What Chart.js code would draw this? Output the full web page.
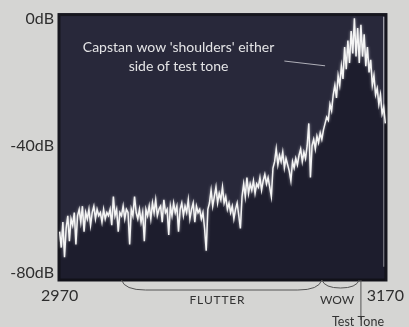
<!DOCTYPE html>
<html>
<head>
<meta charset="utf-8">
<script src="https://cdn.jsdelivr.net/npm/chart.js@4/dist/chart.umd.min.js"></script>
<style>
  html, body { margin: 0; padding: 0; background: #d5d5d3; }
  #wrap { width: 409px; height: 327px; position: relative; }
</style>
</head>
<body>
<div id="wrap"><canvas id="c" width="409" height="327"></canvas></div>
<script>
// Frequency axis (Hz), one reading per Hz from 2970 to 3170
const freqHz = [
  2970,2971,2972,2973,2974,2975,2976,2977,2978,2979,
  2980,2981,2982,2983,2984,2985,2986,2987,2988,2989,
  2990,2991,2992,2993,2994,2995,2996,2997,2998,2999,
  3000,3001,3002,3003,3004,3005,3006,3007,3008,3009,
  3010,3011,3012,3013,3014,3015,3016,3017,3018,3019,
  3020,3021,3022,3023,3024,3025,3026,3027,3028,3029,
  3030,3031,3032,3033,3034,3035,3036,3037,3038,3039,
  3040,3041,3042,3043,3044,3045,3046,3047,3048,3049,
  3050,3051,3052,3053,3054,3055,3056,3057,3058,3059,
  3060,3061,3062,3063,3064,3065,3066,3067,3068,3069,
  3070,3071,3072,3073,3074,3075,3076,3077,3078,3079,
  3080,3081,3082,3083,3084,3085,3086,3087,3088,3089,
  3090,3091,3092,3093,3094,3095,3096,3097,3098,3099,
  3100,3101,3102,3103,3104,3105,3106,3107,3108,3109,
  3110,3111,3112,3113,3114,3115,3116,3117,3118,3119,
  3120,3121,3122,3123,3124,3125,3126,3127,3128,3129,
  3130,3131,3132,3133,3134,3135,3136,3137,3138,3139,
  3140,3141,3142,3143,3144,3145,3146,3147,3148,3149,
  3150,3151,3152,3153,3154,3155,3156,3157,3158,3159,
  3160,3161,3162,3163,3164,3165,3166,3167,3168,3169,
  3170
];

// Spectrum level (dB) at each frequency
const levelDb = [
  -67,-72,-64,-75,-66,-62,-70,-63,-65,-61,
  -71,-62,-60,-64,-59,-67,-61,-63,-60,-65,
  -61,-59,-63,-60,-62,-61,-64,-60,-63,-61,
  -62,-60,-65,-56,-62,-60,-67,-61,-62,-59,
  -63,-60,-61,-71,-60,-62,-56,-61,-63,-60,
  -64,-61,-70,-60,-62,-59,-63,-58,-61,-57,
  -62,-60,-59,-64,-57,-61,-60,-68,-59,-62,
  -58,-61,-59,-67,-60,-58,-62,-59,-61,-57,
  -63,-60,-58,-64,-59,-61,-60,-63,-61,-66,
  -73,-60,-58,-54,-59,-56,-53,-58,-55,-57,
  -53,-58,-56,-60,-58,-61,-59,-63,-60,-58,
  -62,-66,-56,-52,-56,-50,-55,-52,-54,-51,
  -55,-52,-53,-50,-54,-51,-49,-52,-50,-53,
  -56,-47,-45,-41,-46,-43,-45,-42,-47,-44,
  -46,-48,-51,-45,-47,-44,-46,-43,-41,-45,
  -42,-44,-40,-33,-50,-40,-38,-41,-37,-39,
  -36,-38,-35,-33,-31,-32,-27,-29,-24,-21,
  -25,-18,-21,-15,-19,-9,-16,-7,-14,-4,
  -11,0,-12,-3,-14,-2,-12,-5,-15,-9,
  -17,-13,-21,-18,-24,-22,-27,-24,-30,-28,
  -33
];

const freqTicks = [2970, 3170];
const dbTicks = [0, -40, -80];

// Bracketed regions under the frequency axis
const bracketLabels = ['FLUTTER', 'WOW'];
const bracketFrom = [3008, 3131];
const bracketTo = [3131, 3154];
const testToneHz = 3155;
const edgeLineHz = 3169;

const noteLines = ["Capstan wow 'shoulders' either", 'side of test tone'];

const FONT = 'Lato, "Open Sans", sans-serif';

const frame = {
  id: 'frame',
  beforeDraw(chart) {
    const { ctx, chartArea: a } = chart;
    ctx.save();
    ctx.fillStyle = '#28283a';
    ctx.fillRect(a.left, a.top, a.right - a.left, a.bottom - a.top);
    ctx.strokeStyle = '#16161e';
    ctx.lineWidth = 3;
    ctx.strokeRect(a.left + 1, a.top + 1, a.right - a.left - 2, a.bottom - a.top - 2);
    ctx.restore();
  },
  beforeDatasetDraw(chart, args) {
    if (args.index === 0) {
      chart.ctx.save();
      chart.ctx.shadowColor = 'rgba(255,255,255,0.55)';
      chart.ctx.shadowBlur = 3;
    }
  },
  afterDatasetDraw(chart, args) {
    if (args.index === 0) chart.ctx.restore();
  },
  afterDraw(chart) {
    const { ctx, chartArea: a } = chart;
    const xs = chart.scales.x, ys = chart.scales.y;
    ctx.save();
    // note text inside the plot
    ctx.fillStyle = '#e4e4e6';
    ctx.font = '14px ' + FONT;
    ctx.textAlign = 'center';
    ctx.textBaseline = 'middle';
    ctx.fillText(noteLines[0], xs.getPixelForValue(3043), ys.getPixelForValue(-9));
    ctx.fillText(noteLines[1], xs.getPixelForValue(3043), ys.getPixelForValue(-15));
    ctx.strokeStyle = 'rgba(220,220,225,0.75)';
    ctx.lineWidth = 1;
    ctx.beginPath();
    ctx.moveTo(xs.getPixelForValue(3108), ys.getPixelForValue(-13.4));
    ctx.lineTo(xs.getPixelForValue(3133), ys.getPixelForValue(-14.9));
    ctx.stroke();

    // braces below the axis
    const top = a.bottom - 1;
    ctx.strokeStyle = '#555';
    ctx.lineWidth = 1;
    for (let i = 0; i < bracketLabels.length; i++) {
      const x0 = xs.getPixelForValue(bracketFrom[i]);
      const x1 = xs.getPixelForValue(bracketTo[i]);
      const r = Math.min(24, (x1 - x0) / 2);
      const depth = i === 0 ? 10 : 8;
      ctx.beginPath();
      ctx.moveTo(x0, top);
      ctx.quadraticCurveTo(x0 + 3, top + depth, x0 + r, top + depth);
      ctx.lineTo(x1 - r, top + depth);
      ctx.quadraticCurveTo(x1 - 3, top + depth, x1, top);
      ctx.stroke();
    }
    const tx = xs.getPixelForValue(testToneHz);
    ctx.beginPath();
    ctx.moveTo(tx, top);
    ctx.lineTo(tx, top + 40);
    ctx.stroke();

    ctx.fillStyle = '#333';
    ctx.font = '12px ' + FONT;
    ctx.textBaseline = 'middle';
    ctx.fillText('F L U T T E R'.replace(/ /g, '\u200A'), 217, 300);
    ctx.fillText('WOW', 337, 300);
    ctx.font = '12.5px ' + FONT;
    ctx.fillText('Test Tone', 358, 322);
    ctx.restore();
  }
};

new Chart(document.getElementById('c'), {
  type: 'line',
  data: {
    datasets: [
      {
        data: freqHz.map((f, i) => ({ x: f, y: levelDb[i] })),
        borderColor: '#f4f4f4',
        borderWidth: 1.5,
        pointRadius: 0,
        tension: 0,
        fill: 'start',
        backgroundColor: 'rgba(8,8,16,0.3)'
      },
      {
        data: [{ x: edgeLineHz, y: 0.5 }, { x: edgeLineHz, y: -78 }],
        borderColor: 'rgba(200,200,205,0.45)',
        borderWidth: 1,
        pointRadius: 0,
        fill: false
      }
    ]
  },
  options: {
    responsive: false,
    animation: false,
    events: [],
    layout: { padding: { top: 12, right: 19, left: 0, bottom: 0 } },
    plugins: { legend: { display: false }, tooltip: { enabled: false }, title: { display: false } },
    scales: {
      x: {
        type: 'linear',
        min: 2969,
        max: 3171,
        afterBuildTicks: s => { s.ticks = freqTicks.map(v => ({ value: v })); },
        afterFit: s => { s.height = 46; },
        grid: { display: false, drawTicks: false },
        border: { display: false },
        ticks: {
          padding: 5,
          maxRotation: 0,
          autoSkip: false,
          color: '#2e2e2e',
          font: { family: FONT, size: 16 },
          callback: v => String(v)
        }
      },
      y: {
        min: -82.5,
        max: 1.5,
        afterBuildTicks: s => { s.ticks = dbTicks.map(v => ({ value: v })); },
        afterFit: s => { s.width = 58; },
        grid: { display: false, drawTicks: false },
        border: { display: false },
        ticks: {
          padding: 4,
          autoSkip: false,
          color: '#2e2e2e',
          font: { family: FONT, size: 16 },
          callback: v => v + 'dB'
        }
      }
    }
  },
  plugins: [frame]
});
</script>
</body>
</html>
